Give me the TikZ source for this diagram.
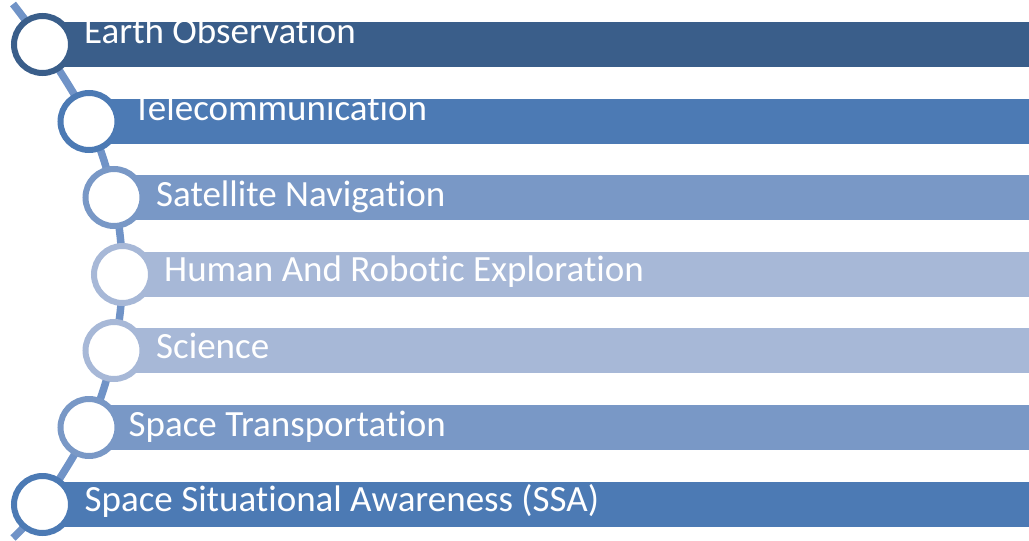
\documentclass[tikz,border=0pt]{standalone}
\usepackage{fontspec}
\setmainfont{Carlito}[Ligatures=NoCommon]

\definecolor{deepblue}{RGB}{58,94,138}
\definecolor{midblue}{RGB}{76,122,180}
\definecolor{softblue}{RGB}{121,152,198}
\definecolor{paleblue}{RGB}{167,184,215}
\definecolor{spineblue}{RGB}{112,147,199}

\begin{document}
\begin{tikzpicture}[x=1pt, y=-1pt,
    spine/.style={spineblue, line width=7.5pt},
    ring/.style={circle, draw, fill=white, line width=6pt, minimum size=57pt, inner sep=0pt},
    item/.style={text=white, anchor=base west, inner sep=0pt, font=\fontsize{37}{40}\selectfont}]
\useasboundingbox (0,0) rectangle (1029,541);

% centres of the rings
\coordinate (top) at (13,4);
\coordinate (p1) at (42.5,44.5);
\coordinate (p2) at (89,121.5);
\coordinate (p3) at (114,197.5);
\coordinate (p4) at (122.5,274.5);
\coordinate (p5) at (114,350.5);
\coordinate (p6) at (89,427.5);
\coordinate (p7) at (42.5,504.5);
\coordinate (bot) at (13,538);

\draw[spine] plot[smooth, tension=0.55] coordinates {(top) (p1) (p2) (p3) (p4) (p5) (p6) (p7) (bot)};

% bars
\fill[deepblue] (42.5,22) rectangle (1029,67);
\fill[midblue] (89,99) rectangle (1029,144);
\fill[softblue] (114,175) rectangle (1029,220);
\fill[paleblue] (122.5,252) rectangle (1029,297);
\fill[paleblue] (114,328) rectangle (1029,373);
\fill[softblue] (89,405) rectangle (1029,450);
\fill[midblue] (42.5,482) rectangle (1029,527);

\node[ring, draw=deepblue] (eo) at (p1) {};
\node[ring, draw=midblue] (tc) at (p2) {};
\node[ring, draw=softblue] (sn) at (p3) {};
\node[ring, draw=paleblue] (hr) at (p4) {};
\node[ring, draw=paleblue] (sc) at (p5) {};
\node[ring, draw=softblue] (st) at (p6) {};
\node[ring, draw=midblue] (ssa) at (p7) {};

\node[item] (eoText) at (84,43.5) {Earth Observation};
\node[item] (tcText) at (133,120.7) {Telecommunication};
\node[item] (snText) at (156,206.7) {Satellite Navigation};
\node[item] (hrText) at (164,281.7) {Human And Robotic Exploration};
\node[item] (scText) at (156,358.3) {Science};
\node[item] (stText) at (128.5,436) {Space Transportation};
\node[item] (ssaText) at (84.5,511.7) {Space Situational Awareness (SSA)};
\end{tikzpicture}
\end{document}
